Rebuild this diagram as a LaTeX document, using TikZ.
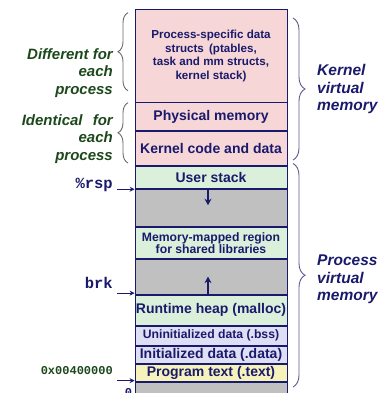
\documentclass[tikz,border=0pt]{standalone}
\usepackage{fontspec}
\setmainfont{Liberation Sans}
\newfontfamily\monofont{Liberation Mono}
\usetikzlibrary{arrows.meta,decorations.pathreplacing,calc}

\definecolor{navy}{RGB}{26,26,108}
\definecolor{labelgreen}{RGB}{28,72,28}
\definecolor{pinkfill}{RGB}{246,214,214}
\definecolor{greenfill}{RGB}{219,240,219}
\definecolor{grayfill}{RGB}{192,192,192}
\definecolor{lavfill}{RGB}{222,222,244}
\definecolor{yellowfill}{RGB}{246,242,188}
\definecolor{lbracecol}{RGB}{105,105,105}
\definecolor{rbracecol}{RGB}{92,92,142}

\tikzset{
  region/.style={draw=navy, line width=0.8pt, minimum width=152pt, inner sep=0pt,
    anchor=north, text=navy, align=center,
    font=\bfseries\fontsize{14}{16}\selectfont},
  smalltext/.style={font=\bfseries\fontsize{12.2}{12}\selectfont},
  sidelabel/.style={text=labelgreen, align=right, anchor=east, inner sep=0pt,
    font=\bfseries\itshape\fontsize{15}{17.5}\selectfont},
  vmlabel/.style={text=navy, align=left, anchor=west, inner sep=0pt,
    font=\bfseries\itshape\fontsize{15.5}{17.5}\selectfont},
  ptrlabel/.style={anchor=base east, inner sep=0pt, font=\monofont\bfseries},
  ptr/.style={navy, line width=1.1pt, -{Stealth[length=5pt,width=5pt]}},
  growarrow/.style={navy, line width=2pt, -{Stealth[length=6.5pt,width=7pt]}},
  leftbrace/.style={lbracecol, line width=0.9pt, decorate,
    decoration={brace, amplitude=10pt}},
  rightbrace/.style={rbracecol, line width=0.9pt, decorate,
    decoration={brace, amplitude=12pt}},
}

\begin{document}
\begin{tikzpicture}[x=1pt, y=-1pt]
\useasboundingbox (0,0) rectangle (383,393);

% kernel part of the address space
\node[region, smalltext, fill=pinkfill, minimum height=92.2pt,
  font=\bfseries\fontsize{11.6}{13.5}\selectfont] (procdata) at (211,9.5)
  {Process-specific data\\structs\hspace{2pt} (ptables,\\task and mm structs,\\kernel stack)};
\node[region, fill=pinkfill, minimum height=27.3pt] (phys) at (procdata.south) {Physical memory};
\node[region, fill=pinkfill, minimum height=34.5pt] (kcode) at (phys.south) {Kernel code and data};

% user part of the address space
\node[region, fill=greenfill, minimum height=22.5pt] (ustack) at (kcode.south) {User stack};
\node[region, fill=grayfill, minimum height=36.7pt] (gapa) at (ustack.south) {};
\node[region, smalltext, fill=greenfill, minimum height=31.6pt] (mmap) at (gapa.south)
  {Memory-mapped region\\for shared libraries};
\node[region, fill=grayfill, minimum height=34.7pt] (gapb) at (mmap.south) {};
\node[region, fill=greenfill, minimum height=30.3pt] (heap) at (gapb.south) {Runtime heap (malloc)};
\node[region, smalltext, fill=lavfill, minimum height=19pt] (bss) at (heap.south) {Uninitialized data (.bss)};
\node[region, fill=lavfill, minimum height=17.7pt] (data) at (bss.south) {Initialized data (.data)};
\node[region, fill=yellowfill, minimum height=17.3pt] (text) at (data.south) {Program text (.text)};
\node[region, fill=grayfill, minimum height=18.7pt] (gapc) at (text.south) {};

% kernel / user boundary
\draw[navy, line width=1.8pt] (kcode.south west) -- (kcode.south east);

% stack grows down, heap grows up
\coordinate (stackfrom) at ($(ustack.south)+(-3,0)$);
\coordinate (stackto) at ($(stackfrom)+(0,16)$);
\draw[growarrow] (stackfrom) -- (stackto);
\coordinate (heapfrom) at ($(heap.north)+(-3,0)$);
\coordinate (heapto) at ($(heapfrom)+(0,-18)$);
\draw[growarrow] (heapfrom) -- (heapto);

% pointer labels on the left
\node[ptrlabel, text=navy, font=\monofont\bfseries\fontsize{15.5}{16}\selectfont] (rsp) at (113,188.5) {\%rsp};
\node[ptrlabel, text=navy, font=\monofont\bfseries\fontsize{15.5}{16}\selectfont] (brk) at (113,288) {brk};
\node[ptrlabel, text=labelgreen, font=\monofont\bfseries\fontsize{12}{12}\selectfont] (textaddr) at (113,374) {0x00400000};
\node[anchor=north, inner sep=0pt, text=navy, font=\monofont\bfseries\fontsize{12}{12}\selectfont] (zero) at (128.5,388.5) {0};

\coordinate (rsptip) at (ustack.south west);
\coordinate (brktip) at ($(heap.north west)+(0,-1.5)$);
\coordinate (texttip) at ($(text.south west)+(0,-1.5)$);
\draw[ptr] ([xshift=4pt]rsp.east |- rsptip) -- (rsptip);
\draw[ptr] ([xshift=4pt]brk.east |- brktip) -- (brktip);
\draw[ptr] ([xshift=4pt]textaddr.east |- texttip) -- (texttip);

% left braces and their labels
\draw[leftbrace] (128,90.7) -- (128,12.7);
\draw[leftbrace] (128,163) -- (128,102.7);
\node[sidelabel] (different) at (113,73) {Different for\\each\\process};
\node[sidelabel] (identical) at (113,139) {Identical\hspace*{6pt} for\\each\\process};

% right braces and their labels
\draw[rightbrace] (293,18) -- (293,160);
\draw[rightbrace] (293,163.5) -- (293,387);
\node[vmlabel] (kvm) at (317,89) {Kernel\\virtual\\memory};
\node[vmlabel] (pvm) at (317,279.5) {Process\\virtual\\memory};
\end{tikzpicture}
\end{document}
